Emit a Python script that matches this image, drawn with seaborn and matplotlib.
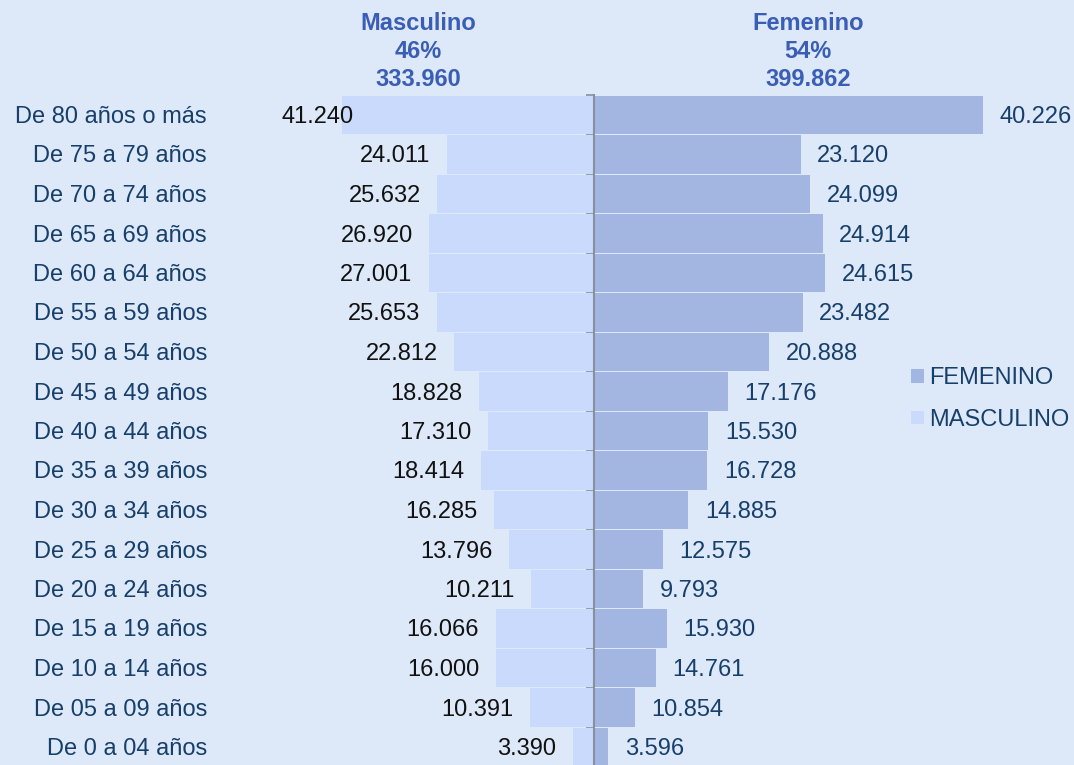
import numpy as np
import pandas as pd
import matplotlib
matplotlib.use('Agg')
import matplotlib.pyplot as plt
import seaborn as sns
from matplotlib.patches import Patch
from matplotlib.transforms import blended_transform_factory, ScaledTranslation

# ---------------- data ----------------
categories = ["De 80 años o más", "De 75 a 79 años", "De 70 a 74 años", "De 65 a 69 años",
              "De 60 a 64 años", "De 55 a 59 años", "De 50 a 54 años", "De 45 a 49 años",
              "De 40 a 44 años", "De 35 a 39 años", "De 30 a 34 años", "De 25 a 29 años",
              "De 20 a 24 años", "De 15 a 19 años", "De 10 a 14 años", "De 05 a 09 años",
              "De 0 a 04 años"]
masc_values = [41240, 24011, 25632, 26920, 27001, 25653, 22812, 18828, 17310, 18414,
               16285, 13796, 10211, 16066, 16000, 10391, 3390]
# labels printed next to the femenino bars
fem_labels = [40226, 23120, 24099, 24914, 24615, 23482, 20888, 17176, 15530, 16728,
              14885, 12575, 9793, 15930, 14761, 10854, 3596]
# femenino bar lengths as drawn in the picture (estimated)
fem_bar = [63930, 33980, 35510, 37590, 38020, 34310, 28780, 22010, 18830, 18660,
           15550, 11350, 8170, 12050, 10200, 6760, 2430]
header_names = ["Masculino", "Femenino"]
header_totals = [333960, 399862]
legend_labels = ["FEMENINO", "MASCULINO"]

# ---------------- style ----------------
BG = '#dde8f8'
MASC_C = '#cadafc'
FEM_C = '#a3b6e1'
TXT = '#173f6b'
HEAD = '#3a5db5'
AXIS_C = '#8a8f9c'
FS = 17

sns.set_style('white')
plt.rcParams['font.family'] = ['Liberation Sans', 'DejaVu Sans']


def fmt(v):
    return f"{v:,}".replace(',', '.')


W, H = 1074, 765
fig = plt.figure(figsize=(W / 100, H / 100), dpi=100, facecolor=BG)
x0_px, x1_px = 281, 1074
top_px, row_h = 95.25, 39.5
n = len(categories)
bottom_px = top_px + n * row_h
ax = fig.add_axes([x0_px / W, (H - bottom_px) / H, (x1_px - x0_px) / W, n * row_h / H])
ax.set_facecolor(BG)

df = pd.DataFrame({'cat': categories,
                   'masc': [-v for v in masc_values],
                   'fem': fem_bar})
sns.barplot(data=df, x='masc', y='cat', orient='h', color=MASC_C, saturation=1,
            width=0.97, ax=ax, linewidth=0)
sns.barplot(data=df, x='fem', y='cat', orient='h', color=FEM_C, saturation=1,
            width=0.97, ax=ax, linewidth=0)

center_px = 593.5
upp = 164.0  # data units per pixel
ax.set_xlim(-(center_px - x0_px) * upp, (x1_px - center_px) * upp)
ax.set_ylim(n - 0.5, -0.5)

for s in ['top', 'right', 'bottom']:
    ax.spines[s].set_visible(False)
ax.spines['left'].set_position(('data', 0))
ax.spines['left'].set_color(AXIS_C)
ax.spines['left'].set_linewidth(1.5)
ax.set_yticks(np.arange(-0.5, n, 1.0))
ax.set_yticklabels([])
ax.tick_params(axis='y', direction='out', length=5.5, width=1.2, color=AXIS_C, left=True)
ax.set_xticks([])
ax.set_xlabel('')
ax.set_ylabel('')

# small downward nudge so digits sit visually centred in the rows
nudge = ScaledTranslation(0, -2 / 100, fig.dpi_scale_trans)

# category labels
trans = blended_transform_factory(fig.transFigure, ax.transData) + nudge
for i, c in enumerate(categories):
    ax.text(207 / W, i, c, transform=trans, ha='right', va='center', fontsize=FS, color=TXT)

# value labels
off = 11.9
dy = -1.44
masc_texts = []
for i, v in enumerate(masc_values):
    t = ax.annotate(fmt(v), xy=(-v, i), xytext=(-off, dy), textcoords='offset points',
                    ha='right', va='center', fontsize=FS, color='#111111', annotation_clip=False)
    masc_texts.append(t)
for i, (v, b) in enumerate(zip(fem_labels, fem_bar)):
    ax.annotate(fmt(v), xy=(b, i), xytext=(off, dy), textcoords='offset points',
                ha='left', va='center', fontsize=FS, color=TXT, annotation_clip=False)

fig.canvas.draw()
r = fig.canvas.get_renderer()
ax_bb = ax.get_window_extent(r)
for i, t in enumerate(masc_texts):
    bb = t.get_window_extent(r)
    if bb.x0 < ax_bb.x0:
        t.remove()
        ax.text(ax.get_xlim()[0], i, fmt(masc_values[i]), ha='left', va='center',
                fontsize=FS, color='#111111', transform=ax.transData + nudge)

# header
for name, total, xc in zip(header_names, header_totals, [418, 808]):
    pct = round(100 * total / sum(header_totals))
    for line, y in zip([name, f"{pct}%", fmt(total)], [23, 52, 79]):
        fig.text(xc / W, 1 - y / H, line, ha='center', va='center', fontsize=FS,
                 fontweight='bold', color=HEAD)

# legend
handles = [Patch(facecolor=FEM_C, edgecolor='none'), Patch(facecolor=MASC_C, edgecolor='none')]
fig.legend(handles, legend_labels, loc='upper left', bbox_to_anchor=(911 / W, 1 - 367 / H),
           frameon=False, fontsize=FS, handlelength=0.53, handleheight=0.53,
           handletextpad=0.25, labelspacing=0.84, borderpad=0, borderaxespad=0,
           labelcolor=TXT)

fig.savefig('out.png', dpi=100, facecolor=BG)
